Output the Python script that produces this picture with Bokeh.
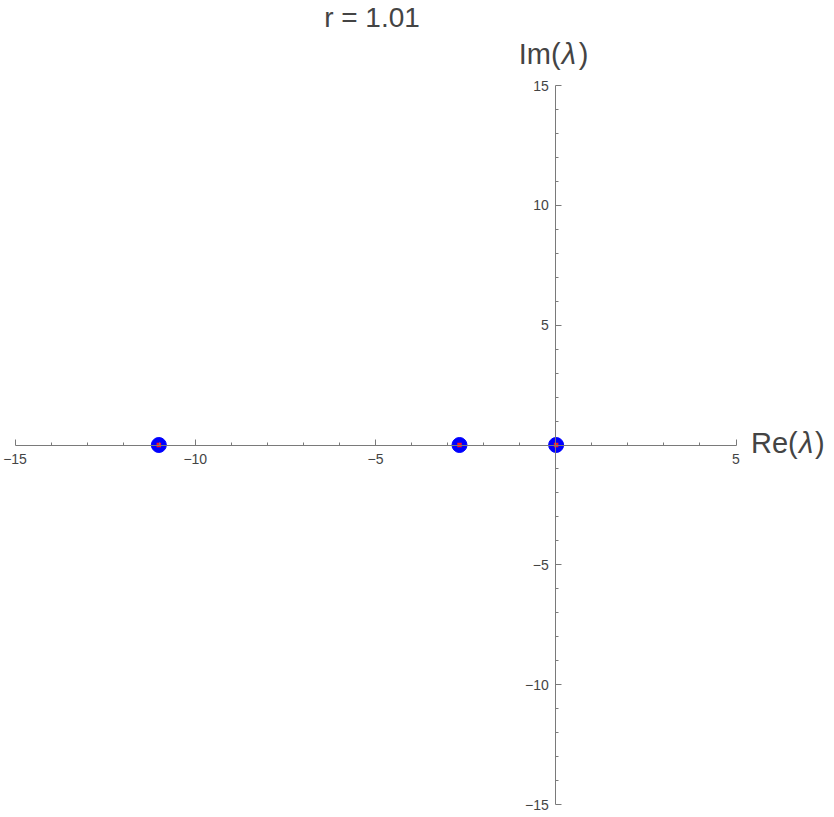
from bokeh.plotting import figure
from bokeh.models import LinearAxis, FixedTicker, Range1d, Label
from bokeh.embed import file_html
from bokeh.resources import INLINE

# eigenvalues (real, imaginary)
re_vals = [-11.01, -2.67, 0.01]
im_vals = [0.0, 0.0, 0.0]

x_lim = [-15, 5]
y_lim = [-15, 15]
x_major = [-15, -10, -5, 5]
y_major = [-15, -10, -5, 5, 10, 15]
x_minor = [-14, -13, -12, -11, -9, -8, -7, -6, -4, -3, -2, -1, 1, 2, 3, 4]
y_minor = [-14, -13, -12, -11, -9, -8, -7, -6, -4, -3, -2, -1,
           1, 2, 3, 4, 6, 7, 8, 9, 11, 12, 13, 14]
title_text = "r = 1.01"

AX = "#7a7a7a"
TXT = "#444444"
FONT = "Liberation Sans"

# layout (canvas pixels): the frame fills the canvas, the axes sit inside it
W, H = 832, 814
AX_L, AX_R = 14.5, 735.5   # pixel of x_lim[0], x_lim[1]
AX_T, AX_B = 85, 804       # pixel of y_lim[1], y_lim[0]
sx = (AX_R - AX_L) / (x_lim[1] - x_lim[0])
sy = (AX_B - AX_T) / (y_lim[1] - y_lim[0])
x_rng = Range1d(x_lim[0] - AX_L / sx, x_lim[1] + (W - AX_R) / sx)
y_rng = Range1d(y_lim[0] - (H - AX_B) / sy, y_lim[1] + AX_T / sy)

p = figure(x_range=x_rng, y_range=y_rng,
           frame_width=W, frame_height=H,
           min_border_left=0, min_border_right=0,
           min_border_top=0, min_border_bottom=0,
           x_axis_location=None, y_axis_location=None,
           output_backend="svg", toolbar_location=None)
p.outline_line_color = None
p.title.visible = False
for g in p.grid:
    g.visible = False


def fmt(t):
    return f"{t:g}".replace("-", "\u2212")


def style_axis(ax, major, minor, lim, standoff):
    ax.ticker = FixedTicker(ticks=major, minor_ticks=minor)
    ax.bounds = tuple(lim)
    ax.axis_line_color = AX
    ax.major_tick_line_color = AX
    ax.minor_tick_line_color = AX
    ax.major_tick_in = 6
    ax.major_tick_out = 0
    ax.minor_tick_in = 3
    ax.minor_tick_out = 0
    ax.major_label_text_font = FONT
    ax.major_label_text_font_size = "14px"
    ax.major_label_text_color = TXT
    ax.major_label_standoff = standoff
    ax.major_label_overrides = {t: fmt(t) for t in major}


xaxis = LinearAxis(fixed_location=0)
style_axis(xaxis, x_major, x_minor, x_lim, 9)
p.add_layout(xaxis, "below")

yaxis = LinearAxis(fixed_location=0)
style_axis(yaxis, y_major, y_minor, y_lim, 7)
p.add_layout(yaxis, "left")

p.scatter(re_vals, im_vals, size=15, color="#0000ff", line_color="#0000ff")
p.scatter(re_vals, im_vals, marker="square", size=4.5, color="#ff1a1a", line_color=None)

# title
p.add_layout(Label(x=(x_lim[0] + x_lim[1]) / 2, y=y_lim[1], x_offset=-3.5, y_offset=68,
                   text=title_text, text_font=FONT, text_font_size="28px",
                   text_color=TXT, text_align="center", text_baseline="alphabetic"))


# axis labels: Re(λ) and Im(λ)
def add_label(x, y, pieces, xo, yo):
    for txt, dx, style in pieces:
        p.add_layout(Label(x=x, y=y, x_offset=xo + dx, y_offset=yo, text=txt,
                           text_font=FONT, text_font_size="29px",
                           text_font_style=style, text_color=TXT,
                           text_baseline="alphabetic", text_align="left"))


add_label(x_lim[1], 0, [("Re(", 0, "normal"), ("\u03bb", 48, "italic"), (")", 64, "normal")], 15, 2)
add_label(0, y_lim[1], [("Im(", 0, "normal"), ("\u03bb", 43, "italic"), (")", 60, "normal")], -37, 32)

open("out.html", "w").write(file_html(p, INLINE))
